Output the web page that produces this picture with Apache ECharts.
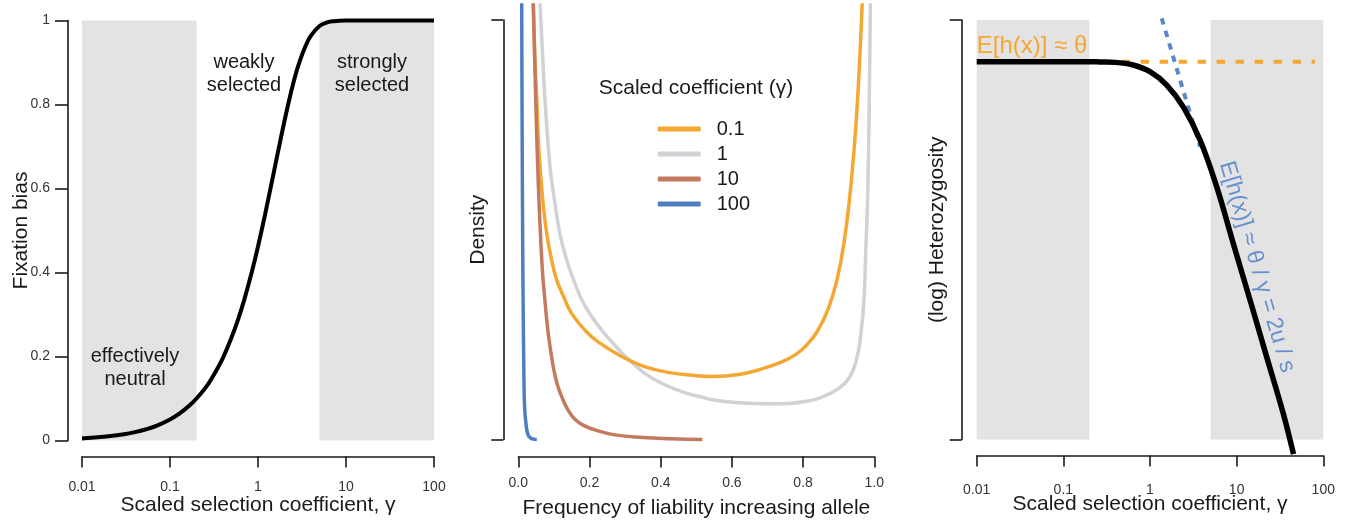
<!DOCTYPE html>
<html><head><meta charset="utf-8">
<script src="https://cdn.jsdelivr.net/npm/echarts@6/dist/echarts.min.js"></script>
<style>html,body{margin:0;padding:0;background:#fff}#c{width:1351px;height:522px}</style>
</head><body><div id="c"></div>
<script>
// ---------- data ----------
const gammaTickLabels = ['0.01', '0.1', '1', '10', '100'];
const freqTickLabels = ['0.0', '0.2', '0.4', '0.6', '0.8', '1.0'];
const bandRanges = [[0.01, 0.2], [5, 100]];

// Panel A: fixation bias vs scaled selection coefficient
const fixGamma = [0.01, 0.015, 0.02, 0.03, 0.04, 0.05, 0.07, 0.1, 0.13, 0.17, 0.2, 0.25, 0.3, 0.4, 0.5, 0.6, 0.7, 0.85, 1, 1.2, 1.5, 1.8, 2.2, 2.6, 3, 3.5, 4, 5, 6, 7, 8, 10, 15, 20, 50, 100];
const fixBias  = [0.005, 0.0075, 0.01, 0.015, 0.02, 0.025, 0.035, 0.05, 0.065, 0.085, 0.1, 0.124, 0.149, 0.197, 0.245, 0.291, 0.336, 0.401, 0.462, 0.537, 0.635, 0.716, 0.8, 0.862, 0.905, 0.941, 0.964, 0.987, 0.995, 0.998, 0.999, 1.0, 1.0, 1.0, 1.0, 1.0];

// Panel B: allele frequency densities (relative units, 0..1 = axis bracket)
const legendNames = ['0.1', '1', '10', '100'];
const dens01X = [0.042, 0.047, 0.052, 0.056, 0.061, 0.07, 0.080, 0.093, 0.108, 0.13, 0.15, 0.19, 0.225, 0.29, 0.35, 0.42, 0.5, 0.55, 0.62, 0.68, 0.74, 0.78, 0.81, 0.84, 0.87, 0.895, 0.915, 0.93, 0.945, 0.955, 0.962, 0.966];
const dens01Y = [1.04, 0.9, 0.809, 0.72, 0.65, 0.56, 0.49, 0.43, 0.38, 0.335, 0.30, 0.258, 0.232, 0.198, 0.175, 0.16, 0.152, 0.15, 0.155, 0.167, 0.185, 0.203, 0.225, 0.258, 0.31, 0.38, 0.47, 0.57, 0.71, 0.84, 0.96, 1.04];
const dens1X  = [0.061, 0.068, 0.075, 0.089, 0.10, 0.117, 0.135, 0.159, 0.18, 0.206, 0.24, 0.272, 0.30, 0.356, 0.41, 0.463, 0.52, 0.557, 0.63, 0.69, 0.76, 0.80, 0.85, 0.90, 0.93, 0.95, 0.962, 0.971, 0.976, 0.981, 0.985, 0.989];
const dens1Y  = [1.04, 0.92, 0.809, 0.65, 0.58, 0.49, 0.43, 0.372, 0.33, 0.293, 0.255, 0.224, 0.199, 0.157, 0.131, 0.113, 0.1, 0.093, 0.087, 0.085, 0.086, 0.09, 0.1, 0.122, 0.148, 0.19, 0.25, 0.333, 0.45, 0.571, 0.75, 1.04];
const dens10X = [0.042, 0.049, 0.053, 0.058, 0.067, 0.075, 0.084, 0.098, 0.11, 0.126, 0.14, 0.159, 0.185, 0.215, 0.272, 0.35, 0.43, 0.517];
const dens10Y = [1.04, 0.809, 0.69, 0.571, 0.412, 0.33, 0.253, 0.174, 0.13, 0.094, 0.07, 0.048, 0.033, 0.023, 0.011, 0.005, 0.002, 0.0];
const dens100X = [0.0096, 0.0105, 0.0118, 0.0135, 0.0155, 0.017, 0.019, 0.022, 0.024, 0.028, 0.034, 0.042, 0.052];
const dens100Y = [1.04, 0.8, 0.55, 0.33, 0.17, 0.094, 0.06, 0.035, 0.023, 0.01, 0.004, 0.001, 0.0];

// Panel C: (log) heterozygosity, relative units (0..1 = axis bracket)
const hetGamma = [0.01, 0.03, 0.1, 0.2, 0.265, 0.4, 0.641, 1.0, 1.56, 2.42, 3.78, 5.89, 9.15, 14.3, 22.2, 34.5, 45.3];
const hetValue = [0.9005, 0.9005, 0.9005, 0.9005, 0.9, 0.899, 0.8927, 0.8767, 0.845, 0.793, 0.714, 0.602, 0.467, 0.332, 0.197, 0.062, -0.035];
const thetaGamma = [0.47, 80];
const thetaValue = [0.9005, 0.9005];
const slopeGamma = [1.365, 3.78];
const slopeValue = [1.004, 0.698];

// ---------- helpers ----------
const zip = (a, b) => a.map((v, i) => [v, b[i]]);
const FONT = '"Liberation Sans", Arial, Helvetica, sans-serif';
const INK = '#1a1a1a';
const C_ORANGE = '#f5a733', C_GRAY = '#d2d2d6', C_BROWN = '#c47a5e', C_BLUE = '#4f7ec0';
const logFmt = v => {
  const e = Math.round(Math.log10(v)) + 2;
  return gammaTickLabels[e] !== undefined ? gammaTickLabels[e] : String(v);
};
const freqFmt = v => {
  const i = Math.round(v / 0.2);
  return freqTickLabels[i] !== undefined ? freqTickLabels[i] : String(v);
};
const axisLineStyle = { color: INK, width: 1.6 };
const bands = (y0, y1) => bandRanges.map(r => [{ xAxis: r[0], yAxis: y0 }, { xAxis: r[1], yAxis: y1 }]);

function xLog(grid, labelMargin, name, gap) {
  return {
    gridIndex: grid, type: 'log', logBase: 10, min: 0.01, max: 100, splitNumber: 4, offset: 16,
    axisLine: { show: true, onZero: false, lineStyle: axisLineStyle },
    axisTick: { show: true, length: 11, lineStyle: axisLineStyle },
    minorTick: { show: false }, splitLine: { show: false }, minorSplitLine: { show: false },
    axisLabel: { show: true, margin: labelMargin, fontSize: 14, color: '#333', fontFamily: FONT, formatter: logFmt, showMinLabel: true, showMaxLabel: true },
    name: name, nameLocation: 'middle', nameGap: gap, nameMoveOverlap: false,
    nameTextStyle: { fontSize: 21, color: INK, fontFamily: FONT }
  };
}
const txt = (x, y, text, size, color, extra) => Object.assign({
  type: 'text', x: x, y: y, z: 100, zlevel: 1,
  style: { text: text, fontSize: size, lineHeight: size + 3, fontFamily: FONT, fill: color, align: 'center', verticalAlign: 'middle' }
}, extra || {});

const option = {
  animation: false,
  backgroundColor: '#ffffff',
  textStyle: { fontFamily: FONT },
  grid: [
    { left: 82, top: 20.5, width: 352, height: 420, containLabel: false, outerBoundsMode: 'none' },
    { left: 518.3, top: 20, width: 356, height: 419.5, containLabel: false, outerBoundsMode: 'none' },
    { left: 976.7, top: 20, width: 346.6, height: 419.5, containLabel: false, outerBoundsMode: 'none' }
  ],
  xAxis: [
    xLog(0, 24, 'Scaled selection coefficient, γ', 38),
    {
      gridIndex: 1, type: 'value', min: 0, max: 1, interval: 0.2, offset: 17,
      axisLine: { show: true, onZero: false, lineStyle: axisLineStyle },
      axisTick: { show: true, length: 11, lineStyle: axisLineStyle },
      splitLine: { show: false },
      axisLabel: { margin: 20, fontSize: 14, color: '#333', fontFamily: FONT, formatter: freqFmt, showMinLabel: true, showMaxLabel: true },
      name: 'Frequency of liability increasing allele', nameLocation: 'middle', nameGap: 41, nameMoveOverlap: false,
      nameTextStyle: { fontSize: 21, color: INK, fontFamily: FONT }
    },
    xLog(2, 28, 'Scaled selection coefficient, γ', 38.5)
  ],
  yAxis: [
    {
      gridIndex: 0, type: 'value', min: 0, max: 1, interval: 0.2, offset: 14,
      axisLine: { show: true, onZero: false, lineStyle: axisLineStyle },
      axisTick: { show: true, length: 13, lineStyle: axisLineStyle },
      splitLine: { show: false },
      axisLabel: { margin: 18, fontSize: 14, color: '#333', fontFamily: FONT },
      name: 'Fixation bias', nameLocation: 'middle', nameGap: 36, nameRotate: 90, nameMoveOverlap: false,
      nameTextStyle: { fontSize: 21, color: INK, fontFamily: FONT }
    },
    {
      gridIndex: 1, type: 'value', min: 0, max: 1, interval: 1, offset: 15,
      axisLine: { show: true, onZero: false, lineStyle: axisLineStyle },
      axisTick: { show: true, length: 12, lineStyle: axisLineStyle },
      splitLine: { show: false }, axisLabel: { show: false },
      name: 'Density', nameLocation: 'middle', nameGap: 15, nameRotate: 90, nameMoveOverlap: false,
      nameTextStyle: { fontSize: 21, color: INK, fontFamily: FONT }
    },
    {
      gridIndex: 2, type: 'value', min: 0, max: 1, interval: 1, offset: 15,
      axisLine: { show: true, onZero: false, lineStyle: axisLineStyle },
      axisTick: { show: true, length: 12, lineStyle: axisLineStyle },
      splitLine: { show: false }, axisLabel: { show: false },
      name: '(log) Heterozygosity', nameLocation: 'middle', nameGap: 13.5, nameRotate: 90, nameMoveOverlap: false,
      nameTextStyle: { fontSize: 21, color: INK, fontFamily: FONT }
    }
  ],
  legend: {
    data: legendNames, orient: 'vertical', left: 652.7, top: 114,
    itemWidth: 43, itemHeight: 5, icon: 'roundRect', itemGap: 5, selectedMode: false,
    textStyle: { fontSize: 20, color: INK, lineHeight: 20, fontFamily: FONT, padding: [0, 0, 0, 11] }
  },
  series: [
    {
      type: 'line', xAxisIndex: 0, yAxisIndex: 0, data: zip(fixGamma, fixBias),
      symbol: 'none', smooth: 0.3, clip: false, color: '#000', z: 5,
      lineStyle: { color: '#000', width: 4 },
      markArea: { silent: true, itemStyle: { color: '#e3e3e3' }, data: bands(0, 1) }
    },
    {
      name: '1', type: 'line', xAxisIndex: 1, yAxisIndex: 1, data: zip(dens1X, dens1Y),
      symbol: 'none', smooth: 0.45, clip: false, color: C_GRAY, lineStyle: { color: C_GRAY, width: 3.5 }
    },
    {
      name: '0.1', type: 'line', xAxisIndex: 1, yAxisIndex: 1, data: zip(dens01X, dens01Y),
      symbol: 'none', smooth: 0.45, clip: false, color: C_ORANGE, lineStyle: { color: C_ORANGE, width: 3.5 }
    },
    {
      name: '10', type: 'line', xAxisIndex: 1, yAxisIndex: 1, data: zip(dens10X, dens10Y),
      symbol: 'none', smooth: 0.45, clip: false, color: C_BROWN, lineStyle: { color: C_BROWN, width: 3.5 }
    },
    {
      name: '100', type: 'line', xAxisIndex: 1, yAxisIndex: 1, data: zip(dens100X, dens100Y),
      symbol: 'none', smooth: 0.45, clip: false, color: C_BLUE, lineStyle: { color: C_BLUE, width: 3.5 }
    },
    {
      type: 'line', xAxisIndex: 2, yAxisIndex: 2, data: zip(thetaGamma, thetaValue),
      symbol: 'none', clip: false, color: C_ORANGE, z: 3,
      lineStyle: { color: C_ORANGE, width: 4, type: [8.5, 10.5] },
      markArea: { silent: true, itemStyle: { color: '#e3e3e3' }, data: bands(0, 1) }
    },
    {
      type: 'line', xAxisIndex: 2, yAxisIndex: 2, data: zip(slopeGamma, slopeValue),
      symbol: 'none', clip: false, color: '#5b87c7', z: 3,
      lineStyle: { color: '#5b87c7', width: 4, type: [6.5, 6.5] }
    },
    {
      type: 'line', xAxisIndex: 2, yAxisIndex: 2, data: zip(hetGamma, hetValue),
      symbol: 'none', smooth: 0.4, clip: false, color: '#000', z: 6,
      lineStyle: { color: '#000', width: 5.5 }
    }
  ],
  graphic: [
    txt(244, 73.5, 'weakly\nselected', 20, INK),
    txt(372, 73.5, 'strongly\nselected', 20, INK),
    txt(135, 367.5, 'effectively\nneutral', 20, INK),
    txt(696, 88, 'Scaled coefficient (γ)', 21, INK),
    txt(976.7, 46, 'E[h(x)] ≈ θ', 24, C_ORANGE, { style: { text: 'E[h(x)] ≈ θ', fontSize: 24, fontFamily: FONT, fill: C_ORANGE, align: 'left', verticalAlign: 'middle' } }),
    txt(1257, 267, 'E[h(x)] ≈ θ / γ = 2u / s', 23, '#6890cf', { rotation: -73.5 * Math.PI / 180 })
  ]
};

const chart = echarts.init(document.getElementById('c'), null, { renderer: 'canvas' });
chart.setOption(option);
</script>
</body></html>
